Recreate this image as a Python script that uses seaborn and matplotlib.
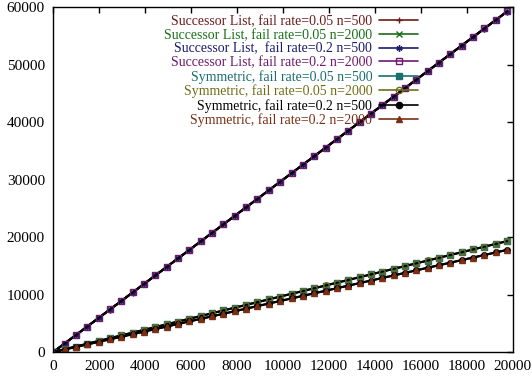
import numpy as np
import pandas as pd
import matplotlib
matplotlib.use('Agg')
import matplotlib.pyplot as plt
import seaborn as sns
from matplotlib.lines import Line2D

x_vals = [0, 494, 988, 1481, 1975, 2469, 2963, 3456, 3950, 4444, 4938, 5431, 5925, 6419,
          6913, 7406, 7900, 8394, 8888, 9381, 9875, 10369, 10863, 11356, 11850, 12344, 12838,
          13331, 13825, 14319, 14813, 15306, 15800, 16294, 16788, 17281, 17775, 18269, 18763,
          19256, 19750]

sl_005_500 = [0, 1482, 2964, 4443, 5925, 7407, 8889, 10368, 11850, 13332, 14814, 16293, 17775,
              19257, 20739, 22218, 23700, 25182, 26664, 28143, 29625, 31107, 32589, 34068, 35550,
              37032, 38514, 39993, 41475, 42957, 44439, 45918, 47400, 48882, 50364, 51843, 53325,
              54807, 56289, 57768, 59250]
sl_005_2000 = [0, 1490, 2971, 4452, 5930, 7412, 8897, 10375, 11858, 13340, 14820, 16301, 17782,
               19263, 20745, 22226, 23708, 25190, 26671, 28150, 29633, 31114, 32596, 34077, 35558,
               37040, 38521, 40002, 41484, 42965, 44446, 45927, 47409, 48890, 50372, 51853, 53334,
               54815, 56297, 57778, 59260]
sl_02_500 = [0, 1478, 2960, 4440, 5921, 7402, 8884, 10364, 11846, 13327, 14809, 16289, 17770,
             19252, 20733, 22213, 23694, 25176, 26657, 28137, 29618, 31100, 32581, 34061, 35542,
             37024, 38505, 39985, 41466, 42948, 44429, 45909, 47390, 48872, 50353, 51833, 53314,
             54796, 56277, 57757, 59238]
sl_02_2000 = [0, 1486, 2968, 4448, 5928, 7410, 8892, 10372, 11854, 13336, 14818, 16298, 17779,
              19261, 20743, 22223, 23705, 25187, 26669, 28149, 29630, 31112, 32594, 34074, 35556,
              37038, 38520, 40000, 41481, 42963, 44445, 45925, 47407, 48889, 50371, 51851, 53332,
              54814, 56296, 57776, 59258]
sym_005_500 = [0, 483, 965, 1447, 1930, 2412, 2895, 3377, 3859, 4342, 4824, 5306, 5789, 6271,
               6754, 7236, 7718, 8201, 8684, 9165, 9648, 10131, 10613, 11095, 11577, 12060, 12543,
               13024, 13507, 13990, 14472, 14954, 15437, 15919, 16402, 16884, 17366, 17849, 18331,
               18813, 19296]
sym_005_2000 = [0, 490, 972, 1455, 1938, 2420, 2903, 3386, 3868, 4351, 4834, 5316, 5799, 6282,
                6764, 7247, 7730, 8212, 8695, 9178, 9660, 10143, 10626, 11108, 11591, 12074, 12556,
                13039, 13522, 14004, 14487, 14970, 15452, 15935, 16418, 16900, 17383, 17866, 18348,
                18831, 19314]
sym_02_500 = [0, 445, 889, 1333, 1778, 2222, 2667, 3110, 3555, 4000, 4444, 4888, 5333, 5777,
              6222, 6665, 7110, 7555, 7999, 8443, 8888, 9332, 9777, 10220, 10665, 11110, 11554,
              11998, 12443, 12887, 13332, 13775, 14220, 14665, 15109, 15553, 15998, 16442, 16887,
              17330, 17775]
sym_02_2000 = [0, 452, 895, 1340, 1784, 2229, 2673, 3117, 3562, 4006, 4451, 4895, 5340, 5784,
               6229, 6673, 7117, 7562, 8006, 8451, 8895, 9340, 9784, 10229, 10673, 11117, 11562,
               12006, 12451, 12895, 13340, 13784, 14229, 14673, 15117, 15562, 16006, 16451, 16895,
               17340, 17784]

labels = ['Successor List, fail rate=0.05 n=500',
          'Successor List, fail rate=0.05 n=2000',
          'Successor List,  fail rate=0.2 n=500',
          'Successor List, fail rate=0.2 n=2000',
          'Symmetric, fail rate=0.05 n=500',
          'Symmetric, fail rate=0.05 n=2000',
          'Symmetric, fail rate=0.2 n=500',
          'Symmetric, fail rate=0.2 n=2000']
series = [sl_005_500, sl_005_2000, sl_02_500, sl_02_2000,
          sym_005_500, sym_005_2000, sym_02_500, sym_02_2000]
colors = ['#6e1a1a', '#1a6e1a', '#1a1a6e', '#6e1a6e', '#1a6e6e', '#6e6e1a', '#000000', '#7a2e14']
markers = ['+', 'x', (6, 2, 0), 's', 's', 'o', 'o', '^']
filled = [True, True, True, False, True, False, True, True]

sns.set_style('white')
plt.rcParams['font.family'] = ['Liberation Serif', 'DejaVu Serif']

fig = plt.figure(figsize=(5.32, 3.79), dpi=100)
ax = fig.add_axes([0.1, 0.071, 0.864, 0.91])

for lab, ys, c, m, f in zip(labels, series, colors, markers, filled):
    df = pd.DataFrame({'x': x_vals, 'y': ys})
    sns.lineplot(data=df, x='x', y='y', ax=ax, color='black', lw=1.5,
                 marker=m, markersize=4, mec=c, mfc=c if f else 'none', mew=1,
                 legend=False)

ax.set_xlim(0, 20000)
ax.set_ylim(0, 60000)
ax.set_xticks(range(0, 20001, 2000))
ax.set_yticks(range(0, 60001, 10000))
ax.set_xlabel('')
ax.set_ylabel('')
ax.tick_params(direction='in', length=4, width=1, top=True, right=True,
               labelsize=11, colors='black', pad=6)
for s in ax.spines.values():
    s.set_color('black')
    s.set_linewidth(1)

handles = [Line2D([0], [0], color=c, lw=1.2, marker=m, markersize=4.5, mec=c,
                  mfc=c if f else 'none', mew=1)
           for c, m, f in zip(colors, markers, filled)]
leg = fig.legend(handles, labels, loc='upper right', bbox_to_anchor=(0.786, 0.96),
                 frameon=False, markerfirst=False, fontsize=10, labelspacing=0.05,
                 handlelength=2.8, handletextpad=0.5, borderpad=0, borderaxespad=0)
for t, c in zip(leg.get_texts(), colors):
    t.set_color(c)

fig.savefig('out.png', dpi=100, facecolor='white')
